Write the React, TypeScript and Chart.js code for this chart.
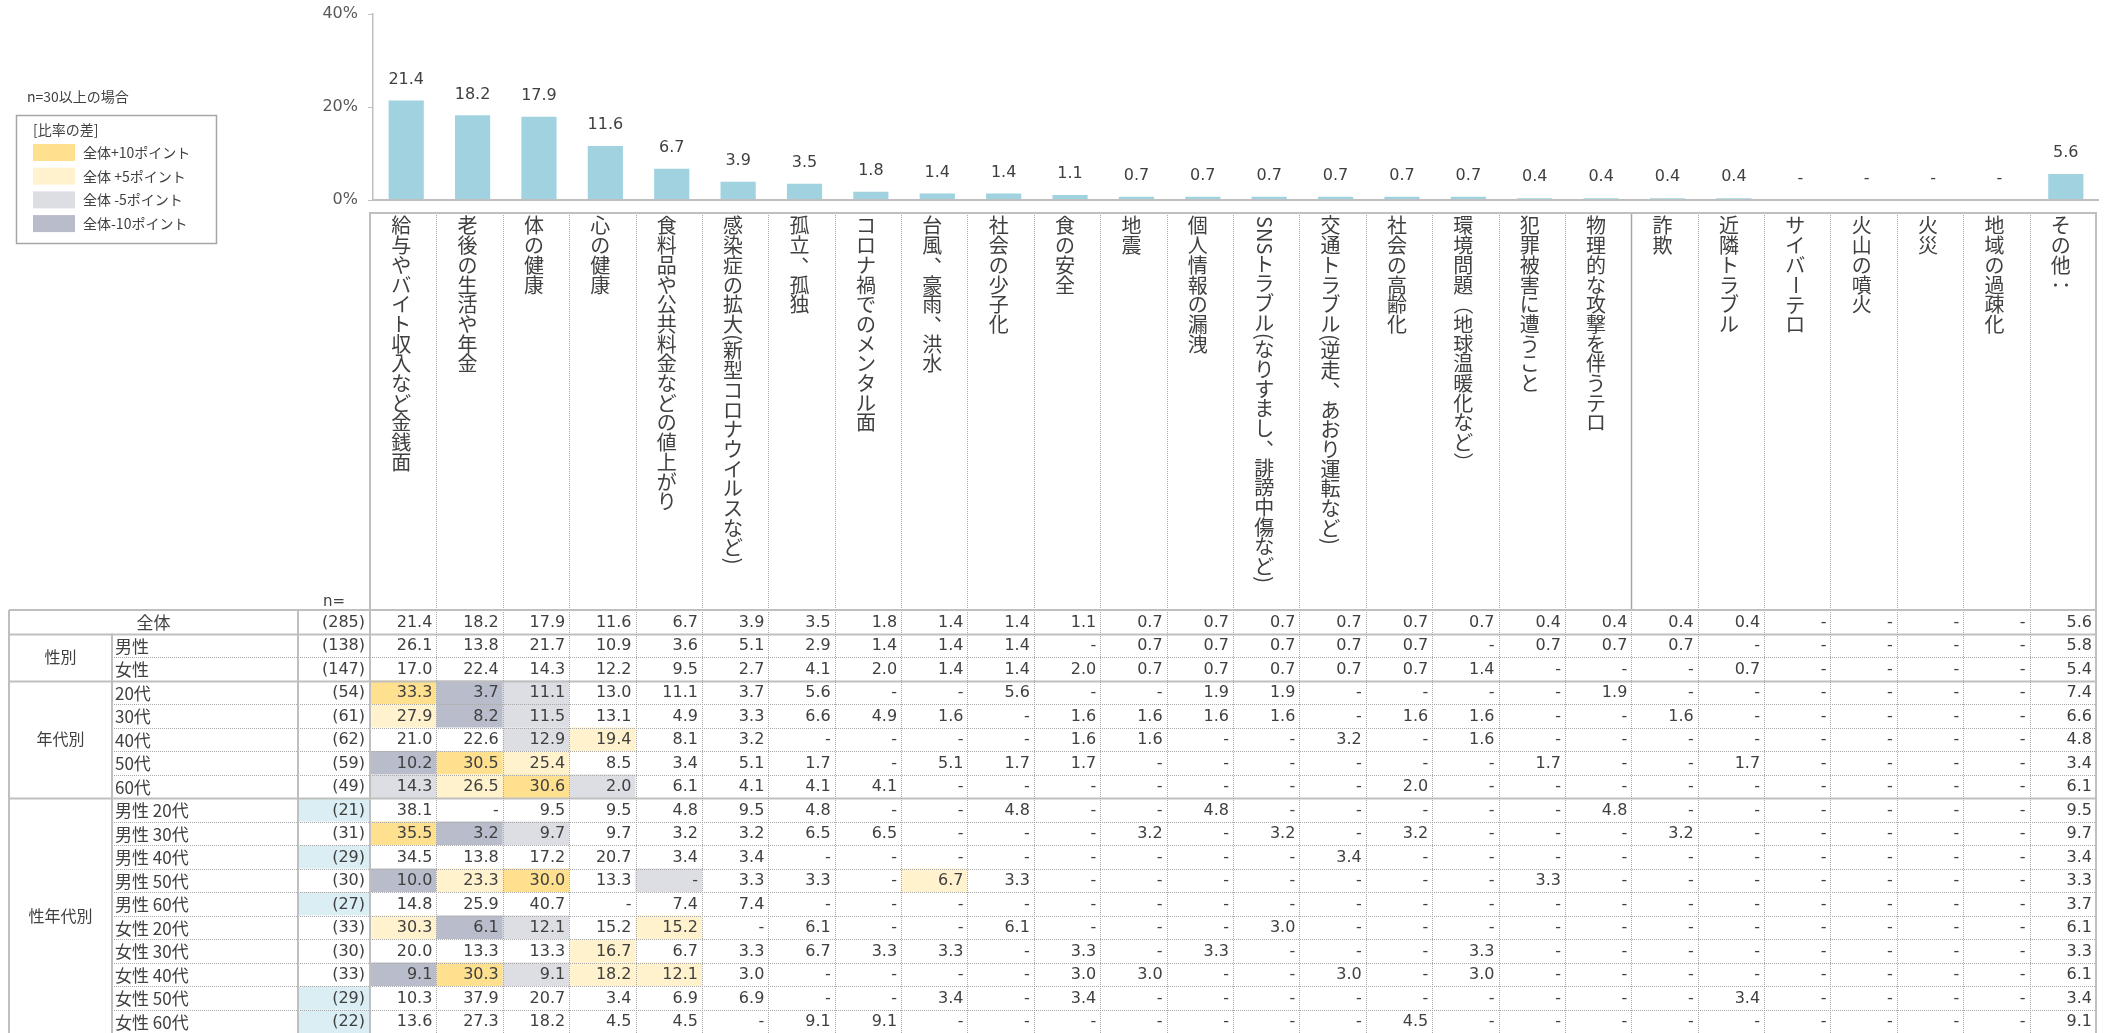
import React, { useEffect, useRef } from 'react';
import { Chart, registerables } from 'chart.js';

Chart.register(...registerables);

const _ = null;

// ---- categories (column headers) ----
const categories = [
  '給与やバイト収入など金銭面', '老後の生活や年金', '体の健康', '心の健康',
  '食料品や公共料金などの値上がり', '感染症の拡大(新型コロナウイルスなど)', '孤立、孤独',
  'コロナ禍でのメンタル面', '台風、豪雨、洪水', '社会の少子化', '食の安全', '地震',
  '個人情報の漏洩', 'SNSトラブル(なりすまし、誹謗中傷など)', '交通トラブル(逆走、あおり運転など)',
  '社会の高齢化', '環境問題（地球温暖化など）', '犯罪被害に遭うこと', '物理的な攻撃を伴うテロ',
  '詐欺', '近隣トラブル', 'サイバーテロ', '火山の噴火', '火災', '地域の過疎化', 'その他：',
];

// ---- series values (全体 = bars) ----
const overall = [21.4, 18.2, 17.9, 11.6, 6.7, 3.9, 3.5, 1.8, 1.4, 1.4, 1.1, 0.7, 0.7, 0.7, 0.7, 0.7, 0.7, 0.4, 0.4, 0.4, 0.4, _, _, _, _, 5.6];

const rowMale = [26.1, 13.8, 21.7, 10.9, 3.6, 5.1, 2.9, 1.4, 1.4, 1.4, _, 0.7, 0.7, 0.7, 0.7, 0.7, _, 0.7, 0.7, 0.7, _, _, _, _, _, 5.8];
const rowFemale = [17.0, 22.4, 14.3, 12.2, 9.5, 2.7, 4.1, 2.0, 1.4, 1.4, 2.0, 0.7, 0.7, 0.7, 0.7, 0.7, 1.4, _, _, _, 0.7, _, _, _, _, 5.4];
const row20s = [33.3, 3.7, 11.1, 13.0, 11.1, 3.7, 5.6, _, _, 5.6, _, _, 1.9, 1.9, _, _, _, _, 1.9, _, _, _, _, _, _, 7.4];
const row30s = [27.9, 8.2, 11.5, 13.1, 4.9, 3.3, 6.6, 4.9, 1.6, _, 1.6, 1.6, 1.6, 1.6, _, 1.6, 1.6, _, _, 1.6, _, _, _, _, _, 6.6];
const row40s = [21.0, 22.6, 12.9, 19.4, 8.1, 3.2, _, _, _, _, 1.6, 1.6, _, _, 3.2, _, 1.6, _, _, _, _, _, _, _, _, 4.8];
const row50s = [10.2, 30.5, 25.4, 8.5, 3.4, 5.1, 1.7, _, 5.1, 1.7, 1.7, _, _, _, _, _, _, 1.7, _, _, 1.7, _, _, _, _, 3.4];
const row60s = [14.3, 26.5, 30.6, 2.0, 6.1, 4.1, 4.1, 4.1, _, _, _, _, _, _, _, 2.0, _, _, _, _, _, _, _, _, _, 6.1];
const rowM20 = [38.1, _, 9.5, 9.5, 4.8, 9.5, 4.8, _, _, 4.8, _, _, 4.8, _, _, _, _, _, 4.8, _, _, _, _, _, _, 9.5];
const rowM30 = [35.5, 3.2, 9.7, 9.7, 3.2, 3.2, 6.5, 6.5, _, _, _, 3.2, _, 3.2, _, 3.2, _, _, _, 3.2, _, _, _, _, _, 9.7];
const rowM40 = [34.5, 13.8, 17.2, 20.7, 3.4, 3.4, _, _, _, _, _, _, _, _, 3.4, _, _, _, _, _, _, _, _, _, _, 3.4];
const rowM50 = [10.0, 23.3, 30.0, 13.3, _, 3.3, 3.3, _, 6.7, 3.3, _, _, _, _, _, _, _, 3.3, _, _, _, _, _, _, _, 3.3];
const rowM60 = [14.8, 25.9, 40.7, _, 7.4, 7.4, _, _, _, _, _, _, _, _, _, _, _, _, _, _, _, _, _, _, _, 3.7];
const rowF20 = [30.3, 6.1, 12.1, 15.2, 15.2, _, 6.1, _, _, 6.1, _, _, _, 3.0, _, _, _, _, _, _, _, _, _, _, _, 6.1];
const rowF30 = [20.0, 13.3, 13.3, 16.7, 6.7, 3.3, 6.7, 3.3, 3.3, _, 3.3, _, 3.3, _, _, _, 3.3, _, _, _, _, _, _, _, _, 3.3];
const rowF40 = [9.1, 30.3, 9.1, 18.2, 12.1, 3.0, _, _, _, _, 3.0, 3.0, _, _, 3.0, _, 3.0, _, _, _, _, _, _, _, _, 6.1];
const rowF50 = [10.3, 37.9, 20.7, 3.4, 6.9, 6.9, _, _, 3.4, _, 3.4, _, _, _, _, _, _, _, _, _, 3.4, _, _, _, _, 3.4];
const rowF60 = [13.6, 27.3, 18.2, 4.5, 4.5, _, 9.1, 9.1, _, _, _, _, _, _, _, 4.5, _, _, _, _, _, _, _, _, _, 9.1];

const rowLabels = ['全体', '男性', '女性', '20代', '30代', '40代', '50代', '60代',
  '男性 20代', '男性 30代', '男性 40代', '男性 50代', '男性 60代',
  '女性 20代', '女性 30代', '女性 40代', '女性 50代', '女性 60代'];
const rowN = [285, 138, 147, 54, 61, 62, 59, 49, 21, 31, 29, 30, 27, 33, 30, 33, 29, 22];
const groupLabels = ['性別', '年代別', '性年代別'];
const groupFirstRow = [1, 3, 8];
const groupLastRow = [2, 7, 17];

// ---- tick labels ----
const yTickValues = [0, 20, 40];
const legendLabels = ['全体+10ポイント', '全体 +5ポイント', '全体 -5ポイント', '全体-10ポイント'];

const tableRows = [overall, rowMale, rowFemale, row20s, row30s, row40s, row50s, row60s,
  rowM20, rowM30, rowM40, rowM50, rowM60, rowF20, rowF30, rowF40, rowF50, rowF60];

// ---- styles ----
const BAR_COLOR = '#A0D3DF';
const TEXT = '#404040';
const AXIS_GRAY = '#BFBFBF';
const DOT_GRAY = '#A8A8A8';
const C_P10 = '#FFE08F';
const C_P5 = '#FFF2CC';
const C_M5 = '#DDDEE3';
const C_M10 = '#B9BDCB';
const C_SMALLN = '#DAEEF3';
const legendColors = [C_P10, C_P5, C_M5, C_M10];
const FONT_NUM = '"DejaVu Sans", "Noto Sans CJK JP", sans-serif';
const FONT_JP = '"Noto Sans CJK JP", sans-serif';

const TABLE_TOP = 610;
const ROW_H = 23.5;
const HEADER_TOP = 213;
const TABLE_LEFT = 9;
const GROUP_RIGHT = 112;
const LABEL_RIGHT = 298;
const SHIFT = -3;
const HEAD_FONT = 20;
const HEAD_PITCH = 19.7;

const fmt = (v: number | null) => (v == null ? '-' : v.toFixed(1));

function cellColor(v: number | null, base: number | null, n: number) {
  if (n < 30) return null;
  const d = Math.round(((v ?? 0) - (base ?? 0)) * 10) / 10;
  if (d >= 10) return C_P10;
  if (d >= 5) return C_P5;
  if (d <= -10) return C_M10;
  if (d <= -5) return C_M5;
  return null;
}

function line(ctx: CanvasRenderingContext2D, x1: number, y1: number, x2: number, y2: number, color: string, w: number, dash: number[] = []) {
  ctx.save();
  ctx.strokeStyle = color;
  ctx.lineWidth = w;
  ctx.setLineDash(dash);
  ctx.beginPath();
  ctx.moveTo(x1, y1);
  ctx.lineTo(x2, y2);
  ctx.stroke();
  ctx.restore();
}

function drawVertical(ctx: CanvasRenderingContext2D, text: string, cx: number, top: number, pitch: number) {
  let yy = top;
  for (const ch of Array.from(text)) {
    if (/[A-Za-z0-9()（）ー：:\-]/.test(ch)) {
      let w = ctx.measureText(ch).width;
      if (/[（）：]/.test(ch)) w = pitch;
      ctx.save();
      ctx.translate(cx, yy + w / 2);
      ctx.rotate(Math.PI / 2);
      ctx.fillText(ch, 0, 0);
      ctx.restore();
      yy += w;
    } else if (ch === '、' || ch === '。') {
      ctx.fillText(ch, cx + pitch * 0.6, yy + pitch * 0.5 - pitch * 0.55);
      yy += pitch;
    } else {
      ctx.fillText(ch, cx, yy + pitch / 2);
      yy += pitch;
    }
  }
}

const tablePlugin = {
  id: 'tableAndLabels',
  afterDatasetsDraw(chart: any) {
    const ctx: CanvasRenderingContext2D = chart.ctx;
    const xs = chart.scales.x;
    const ys = chart.scales.y;
    const area = chart.chartArea;
    line(ctx, area.left, area.bottom, area.right, area.bottom, AXIS_GRAY, 2);
    ctx.save();
    ctx.font = `16px ${FONT_NUM}`;
    ctx.fillStyle = TEXT;
    ctx.textAlign = 'center';
    ctx.textBaseline = 'middle';
    overall.forEach((v, i) => {
      const px = xs.getPixelForValue(i);
      const py = ys.getPixelForValue(v ?? 0) - 21;
      ctx.fillText(fmt(v), px, py);
    });
    ctx.restore();
  },
  afterDraw(chart: any) {
    const ctx: CanvasRenderingContext2D = chart.ctx;
    const xs = chart.scales.x;
    const area = chart.chartArea;
    const n = categories.length;
    const cw = (area.right - area.left) / n;
    const colLeft = (i: number) => xs.getPixelForValue(i) - cw / 2 + SHIFT;
    const dataLeft = colLeft(0);
    const dataRight = colLeft(n - 1) + cw;
    const bottom = TABLE_TOP + ROW_H * tableRows.length;

    ctx.save();
    // ---------- header box ----------
    ctx.fillStyle = TEXT;
    ctx.font = `${HEAD_FONT}px ${FONT_JP}`;
    ctx.textAlign = 'center';
    ctx.textBaseline = 'middle';
    categories.forEach((c, i) => {
      drawVertical(ctx, c, colLeft(i) + cw / 2 - 2, 216, HEAD_PITCH);
    });
    for (let i = 1; i < n; i++) {
      const x = Math.round(colLeft(i)) + 0.5;
      if (i === 19) line(ctx, x, HEADER_TOP, x, TABLE_TOP, '#A6A6A6', 1.5);
      else line(ctx, x, HEADER_TOP, x, TABLE_TOP, DOT_GRAY, 1, [1, 1]);
    }
    ctx.strokeStyle = AXIS_GRAY;
    ctx.lineWidth = 2;
    ctx.strokeRect(dataLeft, HEADER_TOP, dataRight - dataLeft, TABLE_TOP - HEADER_TOP);

    // "n="
    ctx.font = `15px ${FONT_NUM}`;
    ctx.fillStyle = TEXT;
    ctx.textAlign = 'center';
    ctx.fillText('n=', 334, 602);

    // ---------- table backgrounds ----------
    tableRows.forEach((row, r) => {
      const y0 = TABLE_TOP + r * ROW_H;
      if (rowN[r] < 30) {
        ctx.fillStyle = C_SMALLN;
        ctx.fillRect(LABEL_RIGHT, y0, dataLeft - LABEL_RIGHT, ROW_H);
      }
      if (r === 0) return;
      row.forEach((v, i) => {
        const col = cellColor(v, overall[i], rowN[r]);
        if (col) {
          ctx.fillStyle = col;
          ctx.fillRect(colLeft(i), y0, cw, ROW_H);
        }
      });
    });

    // ---------- table lines ----------
    for (let r = 1; r < tableRows.length; r++) {
      const y = Math.round(TABLE_TOP + r * ROW_H) + 0.5;
      if (groupFirstRow.includes(r)) line(ctx, TABLE_LEFT, y, dataRight, y, AXIS_GRAY, 2);
      else line(ctx, GROUP_RIGHT, y, dataRight, y, DOT_GRAY, 1, [1, 1]);
    }
    for (let i = 1; i < n; i++) {
      const x = Math.round(colLeft(i)) + 0.5;
      line(ctx, x, TABLE_TOP, x, bottom, DOT_GRAY, 1, [1, 1]);
    }
    line(ctx, TABLE_LEFT, TABLE_TOP, dataRight, TABLE_TOP, AXIS_GRAY, 2);
    line(ctx, TABLE_LEFT, TABLE_TOP, TABLE_LEFT, bottom, AXIS_GRAY, 2);
    line(ctx, GROUP_RIGHT, TABLE_TOP + ROW_H, GROUP_RIGHT, bottom, AXIS_GRAY, 2);
    line(ctx, LABEL_RIGHT, TABLE_TOP, LABEL_RIGHT, bottom, AXIS_GRAY, 2);
    line(ctx, dataLeft, TABLE_TOP, dataLeft, bottom, AXIS_GRAY, 2);
    line(ctx, dataRight, TABLE_TOP, dataRight, bottom, AXIS_GRAY, 2);

    // ---------- table text ----------
    ctx.fillStyle = TEXT;
    ctx.textBaseline = 'middle';
    tableRows.forEach((row, r) => {
      const yc = TABLE_TOP + r * ROW_H + ROW_H / 2 + 1;
      ctx.font = `17px ${FONT_JP}`;
      if (r === 0) {
        ctx.textAlign = 'center';
        ctx.fillText(rowLabels[r], (TABLE_LEFT + LABEL_RIGHT) / 2, yc);
      } else {
        ctx.textAlign = 'left';
        ctx.fillText(rowLabels[r], GROUP_RIGHT + 3, yc);
      }
      ctx.font = `16px ${FONT_NUM}`;
      ctx.textAlign = 'right';
      ctx.fillText(`(${rowN[r]})`, dataLeft - 5, yc);
      row.forEach((v, i) => {
        ctx.fillText(fmt(v), colLeft(i) + cw - 4, yc);
      });
    });
    ctx.font = `16px ${FONT_JP}`;
    ctx.textAlign = 'center';
    groupLabels.forEach((g, k) => {
      const y0 = TABLE_TOP + groupFirstRow[k] * ROW_H;
      const y1 = TABLE_TOP + (groupLastRow[k] + 1) * ROW_H;
      ctx.fillText(g, (TABLE_LEFT + GROUP_RIGHT) / 2, (y0 + y1) / 2);
    });

    // ---------- legend ----------
    ctx.textAlign = 'left';
    ctx.font = `14px ${FONT_JP}`;
    ctx.fillText('n=30以上の場合', 27, 97);
    ctx.strokeStyle = '#A6A6A6';
    ctx.lineWidth = 1.5;
    ctx.strokeRect(16.5, 115.5, 200, 128);
    ctx.font = `14px ${FONT_JP}`;
    ctx.fillText('[比率の差]', 33, 130);
    legendLabels.forEach((lab, k) => {
      ctx.fillStyle = legendColors[k];
      ctx.fillRect(33, 144 + k * 23.7, 42, 17);
      ctx.fillStyle = TEXT;
      ctx.fillText(lab, 83, 152.5 + k * 23.7);
    });
    ctx.restore();
  },
};

export default function App() {
  const ref = useRef<HTMLCanvasElement | null>(null);
  useEffect(() => {
    if (!ref.current) return;
    const chart = new Chart(ref.current, {
      type: 'bar',
      data: {
        labels: categories,
        datasets: [{
          data: overall.map((v) => v ?? 0),
          backgroundColor: BAR_COLOR,
          borderWidth: 0,
          categoryPercentage: 1,
          barPercentage: 0.53,
        }],
      },
      options: {
        responsive: false,
        animation: false,
        devicePixelRatio: 1,
        layout: { padding: { left: 313, top: 14, right: 11, bottom: 833 } },
        plugins: { legend: { display: false }, tooltip: { enabled: false } },
        scales: {
          x: { type: 'category', display: false, offset: true },
          y: {
            min: 0,
            max: 40,
            afterBuildTicks: (s: any) => { s.ticks = yTickValues.map((v) => ({ value: v })); },
            afterFit: (s: any) => { s.width = 60; s.paddingTop = 0; s.paddingBottom = 0; },
            ticks: {
              callback: (v: any) => `${v}%`,
              font: { family: FONT_NUM, size: 16 },
              color: '#595959',
              padding: 10,
            },
            grid: { display: true, drawOnChartArea: false, drawTicks: true, tickLength: 5, color: AXIS_GRAY },
            border: { display: true, color: AXIS_GRAY, width: 1.5 },
          },
        },
      },
      plugins: [tablePlugin],
    } as any);
    return () => chart.destroy();
  }, []);
  return (
    <div style={{ position: 'fixed', left: 0, top: 0, width: 2110, height: 1033, background: '#fff' }}>
      <canvas ref={ref} width={2110} height={1033} style={{ display: 'block' }} />
    </div>
  );
}
